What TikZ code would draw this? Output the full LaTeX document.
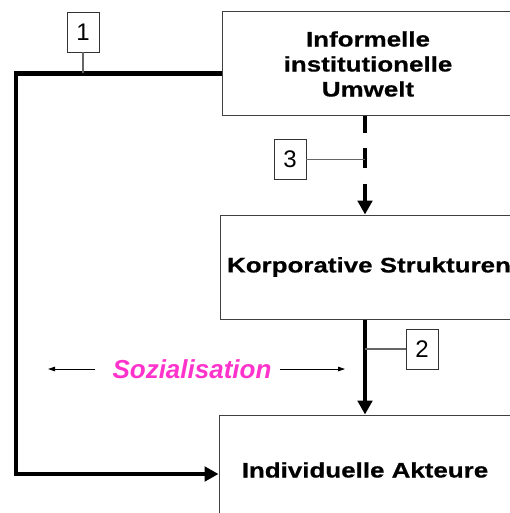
\documentclass[tikz,border=0pt]{standalone}
\usepackage{fontspec}
\setmainfont{Liberation Sans}
\newfontfamily\widesans[FakeStretch=1.235, BoldFeatures={FakeBold=0.6}]{Liberation Sans}
\usetikzlibrary{arrows.meta}
\definecolor{sozpink}{RGB}{255,51,204}
\begin{document}
\begin{tikzpicture}[x=1pt,y=-1pt,
  box/.style={draw=black!75, line width=1pt, fill=white, inner sep=0pt, align=center,
    font=\widesans\bfseries\fontsize{21}{25}\selectfont},
  tag/.style={draw=black!80, line width=0.8pt, minimum width=32pt, minimum height=40pt,
    inner sep=0pt, font=\fontsize{24}{28}\selectfont},
  tagline/.style={draw=black!60, line width=1.2pt},
  flow/.style={line width=4.8pt, -{Triangle[width=14.5pt,length=14pt]}},
  hint/.style={line width=0.8pt, -{Triangle[width=4.5pt,length=7pt]}}
]
\useasboundingbox (0,0) rectangle (510,513);
\clip (0,0) rectangle (510,513);

% vertical axis shared by the main arrows
\coordinate (spine) at (365,0);

% the three levels
\node[box, minimum width=292pt, minimum height=104pt] (inst) at (368,64)
  {Informelle\\institutionelle\\Umwelt};
\node[box, minimum width=298pt, minimum height=104pt] (korp) at (369,267)
  {Korporative Strukturen};
\node[box, minimum width=292pt, minimum height=110pt] (akt) at (365,470)
  {Individuelle Akteure};

% numbered tags
\node[tag] (t1) at (83,32) {1};
\node[tag] (t3) at (290,159.5) {3};
\node[tag] (t2) at (422,349) {2};

% socialisation label
\node[font=\bfseries\itshape\fontsize{26}{30}\selectfont, text=sozpink, inner sep=0pt,
  anchor=base] (soz) at (192,378.3) {Sozialisation};

% arrows between the levels
\draw[flow, dash pattern=on 17pt off 15pt on 19pt off 16pt on 40pt off 1pt]
  (inst.south -| spine) -- (korp.north -| spine);
\draw[flow] (korp.south -| spine) -- (akt.north -| spine);

% direct path from the institutional environment to the actors
\coordinate (feed) at ([yshift=-9.5pt]inst.west);
\coordinate (corner) at (16,474);
\draw[flow] (feed) -| (corner) -- (corner -| akt.west);

% tag leaders
\draw[tagline] (t1.south) -- (t1.south |- feed);
\draw[tagline] (t3.east) -- (t3.east -| spine);
\draw[tagline] (t2.west) -- (t2.west -| spine);

% socialisation arrows
\coordinate (sozL) at (48,369);
\coordinate (sozR) at (345,369);
\draw[hint] ([xshift=-17pt]soz.west) -- (soz.west -| sozL);
\draw[hint] ([xshift=8pt]soz.east) -- (soz.east -| sozR);
\end{tikzpicture}
\end{document}
